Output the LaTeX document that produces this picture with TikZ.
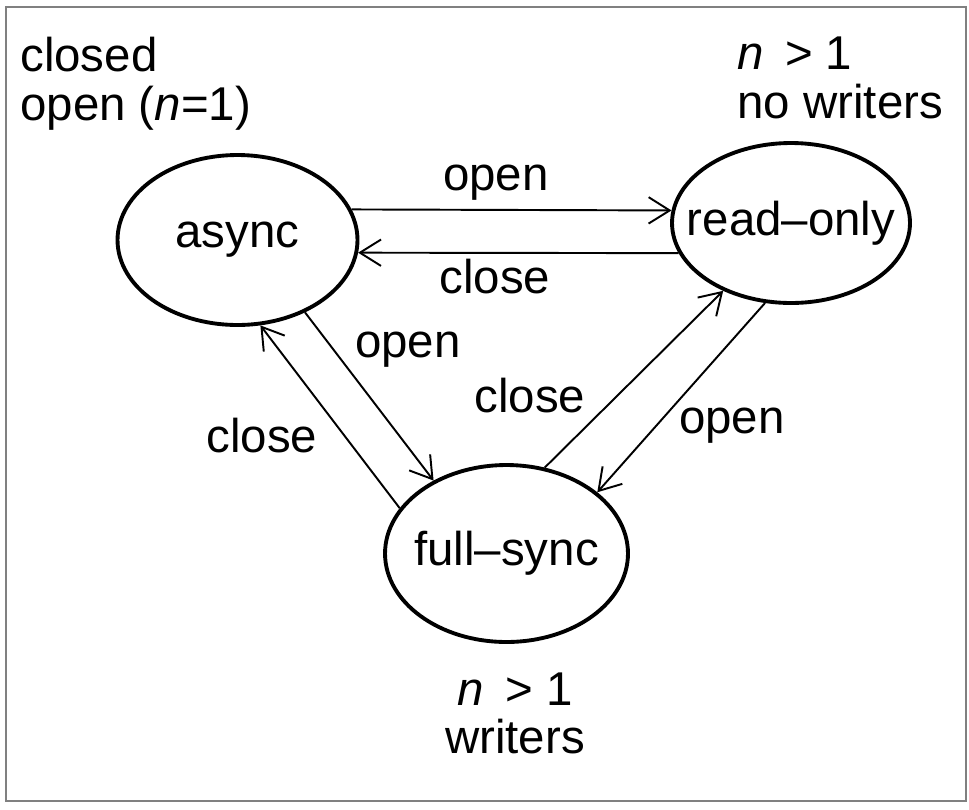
\documentclass[tikz,border=0pt]{standalone}
\usepackage{fontspec}
\setmainfont{Liberation Sans}
\usetikzlibrary{shapes.geometric,arrows.meta}

\begin{document}
\begin{tikzpicture}[x=0.02cm,y=-0.02cm,font=\fontsize{27}{27.5}\selectfont,
  state/.style={draw,ellipse,line width=2.2pt,inner sep=0pt},
  trans/.style={line width=1.1pt,-{Straight Barb[length=12pt,width=15pt,line width=1.1pt]}},
  lbl/.style={inner sep=0pt,anchor=base},
  cond/.style={inner sep=0pt,align=left}]
\useasboundingbox (0,0) rectangle (969,809);
\draw[gray,line width=0.8pt] (6,7) rectangle (966,801);
\node[state,minimum width=4.8cm,minimum height=3.4cm,label=center:async] (async) at (237.5,240) {};
\node[state,minimum width=4.76cm,minimum height=3.2cm,label=center:read--only] (readonly) at (791,223) {};
\node[state,minimum width=4.86cm,minimum height=3.54cm,label=center:full--sync] (fullsync) at (506.5,553.5) {};
\draw[trans] (async.15) -- (readonly.174);
\draw[trans] (readonly.-165) -- (async.-6);
\draw[trans] (async.-47) -- (fullsync.135);
\draw[trans] (fullsync.157) -- (async.-75);
\draw[trans] (fullsync.66) -- (readonly.225);
\draw[trans] (readonly.252) -- (fullsync.34);
\node[lbl] (openar) at (496,190) {open};
\node[lbl] (closera) at (495,293) {close};
\node[lbl] (openaf) at (408,357) {open};
\node[lbl] (closefa) at (262,452) {close};
\node[lbl] (closefr) at (530,412) {close};
\node[lbl] (openrf) at (732,433) {open};
\node[cond,anchor=north west] (asynccond) at (20,37) {closed\\open (\textit{n}=1)};
\node[cond,anchor=north west] (readcond) at (737,37) {\textit{n}\hspace{0.45em}> 1\\no writers};
\node[cond,anchor=north,align=center] (synccond) at (515,672) {\textit{n}\hspace{0.45em}> 1\\writers};
\end{tikzpicture}
\end{document}
